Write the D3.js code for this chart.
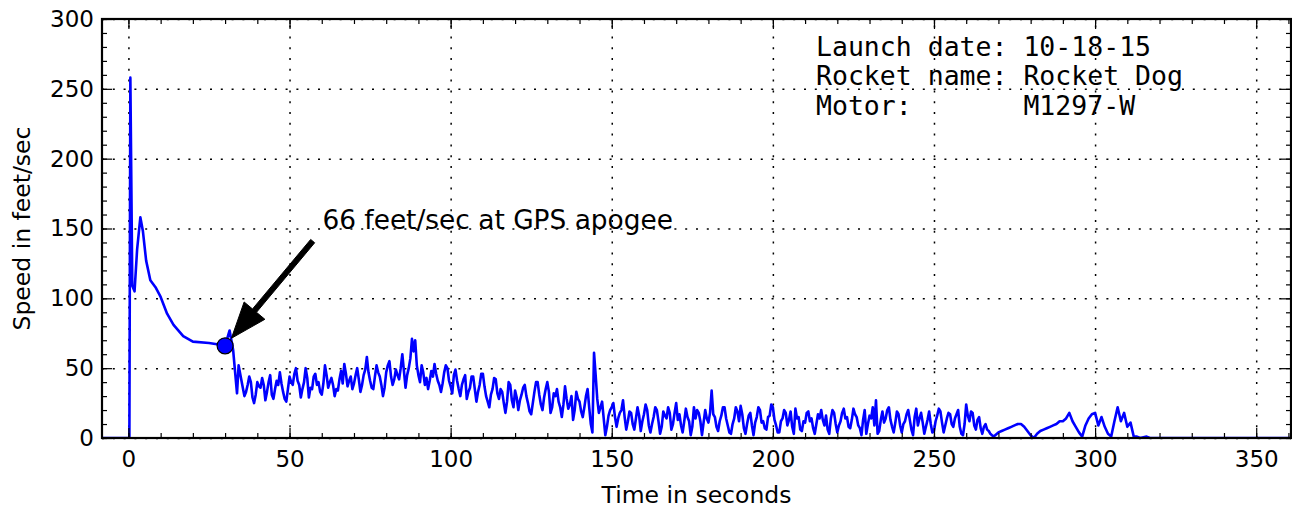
<!DOCTYPE html>
<html lang="en">
	<head>
		<meta charset="utf-8">
		<title>Rocket Dog speed</title>
		<script type="text/javascript" src="https://cdn.jsdelivr.net/npm/d3@7"></script>
		<style>
			body { margin: 0; background: #fff; }
			.axis text {
				font-family: "DejaVu Sans", sans-serif;
				font-size: 23px;
				fill: #000;
			}
			.axis line { stroke: #000; stroke-width: 1.2px; }
			.grid line {
				stroke: #000;
				stroke-width: 1.5px;
				stroke-dasharray: 2, 8.8;
			}
			.label {
				font-family: "DejaVu Sans", sans-serif;
				font-size: 23.5px;
			}
			.info {
				font-family: "DejaVu Sans Mono", monospace;
				font-size: 26.5px;
				white-space: pre;
			}
			.note {
				font-family: "DejaVu Sans", sans-serif;
				font-size: 26.4px;
			}
		</style>
	</head>
	<body>
		<script type="text/javascript">

			var w = 1292;
			var h = 508;

			// boost phase, read point by point (seconds, feet/sec)
			var earlyTime = [-8.2, 0.3, 0.6, 1.2, 1.9, 2.7, 3.7, 4.5, 5.5, 6.8, 8.4, 10, 12, 14, 17, 20, 25, 28, 30, 31.4, 32.5, 33.7, 34.2];
			var earlySpeed = [0, 0, 258, 109, 105, 135, 158, 148, 127, 113, 108, 101, 89, 81, 73, 69, 68, 67, 66, 77, 63, 32, 52];

			// descent under chute, two readings per second from 35 s (one row = 10 s)
			var descentStart = 35;
			var descentStep = 0.5;
			var descentSpeed = [
				42, 36, 30, 33, 38, 44, 40, 29, 25, 31, 40, 37, 36, 43, 38, 27, 33, 40, 45, 31,
				28, 35, 41, 38, 47, 39, 33, 28, 26, 35, 44, 40, 38, 46, 50, 41, 38, 29, 35, 40,
				50, 43, 29, 36, 35, 44, 46, 38, 40, 33, 31, 39, 52, 45, 36, 40, 43, 38, 30, 35,
				34, 42, 48, 39, 53, 46, 37, 41, 44, 35, 39, 45, 50, 42, 33, 38, 45, 49, 58, 47,
				41, 36, 35, 44, 52, 47, 44, 38, 30, 36, 47, 52, 55, 44, 38, 42, 49, 45, 42, 50,
				60, 48, 36, 45, 50, 57, 71, 62, 70, 52, 45, 40, 52, 47, 38, 43, 35, 41, 48, 44,
				53, 46, 41, 38, 33, 39, 47, 52, 50, 41, 37, 32, 45, 49, 41, 35, 30, 38, 42, 45,
				28, 33, 36, 44, 44, 35, 26, 33, 38, 46, 46, 37, 30, 26, 22, 31, 35, 43, 42, 32,
				28, 35, 33, 25, 18, 26, 40, 38, 27, 22, 34, 29, 20, 27, 31, 36, 38, 30, 25, 19,
				17, 25, 33, 40, 40, 31, 24, 20, 29, 35, 40, 33, 18, 22, 32, 30, 35, 26, 22, 15,
				24, 37, 28, 21, 24, 30, 13, 20, 33, 28, 26, 19, 15, 22, 30, 35, 22, 10, 4, 61,
				45, 28, 18, 22, 26, 14, 2, 8, 16, 20, 22, 25, 15, 8, 14, 18, 20, 27, 15, 6,
				12, 19, 18, 10, 6, 14, 22, 16, 5, 12, 17, 24, 20, 9, 4, 10, 15, 22, 20, 12,
				3, 8, 19, 16, 14, 22, 18, 6, 10, 18, 25, 13, 17, 9, 4, 12, 21, 15, 12, 2,
				8, 22, 14, 20, 18, 12, 2, 11, 20, 14, 11, 18, 34, 17, 15, 8, 5, 12, 16, 22,
				22, 14, 9, 4, 3, 10, 14, 22, 19, 12, 23, 17, 7, 3, 10, 16, 18, 9, 2, 11,
				15, 22, 20, 11, 12, 7, 6, 15, 16, 24, 22, 13, 9, 4, 4, 12, 14, 20, 18, 9,
				13, 19, 8, 3, 21, 14, 15, 6, 5, 12, 11, 18, 19, 12, 14, 7, 3, 10, 17, 14,
				20, 13, 9, 16, 6, 3, 14, 20, 18, 10, 4, 9, 12, 18, 21, 14, 15, 8, 7, 13,
				21, 17, 15, 9, 7, 2, 13, 20, 3, 10, 16, 14, 22, 9, 27, 3, 5, 13, 19, 11,
				14, 20, 22, 13, 8, 4, 11, 19, 17, 9, 4, 10, 12, 17, 20, 13, 6, 2, 15, 21,
				9, 14, 18, 11, 3, 8, 13, 19, 10, 4, 5, 12, 16, 21, 19, 11, 4, 9, 14, 18,
				17, 10, 8, 14, 17, 20, 8, 3, 2, 10, 24, 16, 12, 19, 18, 9, 6, 13, 15, 7,
				3, 8, 10, 6, 5, 3, 2, 1
			];

			// slower GPS fixes near the ground, one per second from 269 s
			var tailStart = 269;
			var tailSpeed = [
				2,
				4, 5, 6, 7, 8, 9, 10, 10, 8, 5,
				2, 0, 3, 5, 6, 7, 8, 9, 10, 12,
				12, 14, 18, 12, 8, 4, 1, 9, 14, 17,
				18, 9, 15, 8, 3, 1, 12, 22, 12, 18,
				8, 11, 1
			];

			// landed
			var lateTime = [313, 314, 316, 317, 362];
			var lateSpeed = [1, 0, 1, 0, 0];

			var xTicks = [0, 50, 100, 150, 200, 250, 300, 350];
			var yTicks = [0, 50, 100, 150, 200, 250, 300];

			var apogee = { time: 30, speed: 66, textTime: 60.2, textSpeed: 149.3, text: "66 feet/sec at GPS apogee" };
			var infoLines = ["Launch date: 10-18-15", "Rocket name: Rocket Dog", "Motor:       M1297-W"];

			// build the series
			var dataset = [];
			earlyTime.forEach(function(t, i) { dataset.push({ t: t, v: earlySpeed[i] }); });
			descentSpeed.forEach(function(v, i) { dataset.push({ t: descentStart + i * descentStep, v: v }); });
			tailSpeed.forEach(function(v, i) { dataset.push({ t: tailStart + i, v: v }); });
			lateTime.forEach(function(t, i) { dataset.push({ t: t, v: lateSpeed[i] }); });

			var plotL = 102, plotR = 1291, plotT = 19, plotB = 438;

			var xScale = d3.scaleLinear().domain([-8.2, 360.8]).range([plotL, plotR]);
			var yScale = d3.scaleLinear().domain([0, 300]).range([plotB, plotT]);

			var svg = d3.select("body")
				.append("svg")
				.attr("width", w)
				.attr("height", h);

			svg.append("defs").append("clipPath")
				.attr("id", "plot")
				.append("rect")
				.attr("x", plotL).attr("y", plotT)
				.attr("width", plotR - plotL).attr("height", plotB - plotT);

			// grid
			svg.append("g")
				.attr("class", "grid")
				.attr("transform", "translate(0," + plotB + ")")
				.call(d3.axisBottom(xScale).tickValues(xTicks).tickSize(-(plotB - plotT)).tickFormat(""))
				.call(function(g) { g.select(".domain").remove(); });
			svg.append("g")
				.attr("class", "grid")
				.attr("transform", "translate(" + plotL + ",0)")
				.call(d3.axisLeft(yScale).tickValues(yTicks).tickSize(-(plotR - plotL)).tickFormat(""))
				.call(function(g) { g.select(".domain").remove(); });

			// speed line
			var line = d3.line()
				.x(function(d) { return xScale(d.t); })
				.y(function(d) { return yScale(d.v); });

			svg.append("path")
				.datum(dataset)
				.attr("clip-path", "url(#plot)")
				.attr("fill", "none")
				.attr("stroke", "#0000ff")
				.attr("stroke-width", 2.6)
				.attr("stroke-linejoin", "round")
				.attr("d", line);

			// ticks on all four sides, pointing in
			var minorX = d3.range(0, 361, 10);
			var minorY = d3.range(0, 301, 10);

			function ticks(axisFn, scale, values, size, pad, labels, tx, ty) {
				var ax = axisFn(scale).tickValues(values).tickSizeInner(-size).tickSizeOuter(0).tickPadding(pad);
				if (!labels) ax.tickFormat("");
				svg.append("g")
					.attr("class", "axis")
					.attr("transform", "translate(" + tx + "," + ty + ")")
					.call(ax)
					.call(function(g) { g.select(".domain").remove(); });
			}

			ticks(d3.axisBottom, xScale, minorX, 5, 0, false, 0, plotB);
			ticks(d3.axisTop, xScale, minorX, 5, 0, false, 0, plotT);
			ticks(d3.axisLeft, yScale, minorY, 5, 0, false, plotL, 0);
			ticks(d3.axisRight, yScale, minorY, 5, 0, false, plotR, 0);
			ticks(d3.axisBottom, xScale, xTicks, 10, 13, true, 0, plotB);
			ticks(d3.axisTop, xScale, xTicks, 10, 0, false, 0, plotT);
			ticks(d3.axisLeft, yScale, yTicks, 10, 8, true, plotL, 0);
			ticks(d3.axisRight, yScale, yTicks, 10, 0, false, plotR, 0);

			// frame
			svg.append("rect")
				.attr("x", plotL).attr("y", plotT)
				.attr("width", plotR - plotL).attr("height", plotB - plotT)
				.attr("fill", "none")
				.attr("stroke", "#000")
				.attr("stroke-width", 2.2);

			// axis labels
			svg.append("text")
				.attr("class", "label")
				.attr("x", (plotL + plotR) / 2)
				.attr("y", 503)
				.attr("text-anchor", "middle")
				.text("Time in seconds");

			svg.append("text")
				.attr("class", "label")
				.attr("transform", "translate(30," + ((plotT + plotB) / 2) + ") rotate(-90)")
				.attr("text-anchor", "middle")
				.text("Speed in feet/sec");

			// launch info
			svg.append("g").selectAll("text")
				.data(infoLines)
				.enter()
				.append("text")
				.attr("class", "info")
				.attr("x", 816)
				.attr("y", function(d, i) { return 55.5 + i * 29.5; })
				.text(function(d) { return d; });

			// apogee annotation
			var px = xScale(apogee.time), py = yScale(apogee.speed);
			var tx = xScale(apogee.textTime), ty = yScale(apogee.textSpeed);
			var dx = px - tx, dy = py - ty;
			var x0 = tx + 0.1 * dx, y0 = ty + 0.1 * dy;
			var x1 = px - 0.065 * dx, y1 = py - 0.065 * dy;
			var len = Math.sqrt((x1 - x0) * (x1 - x0) + (y1 - y0) * (y1 - y0));
			var ux = (x1 - x0) / len, uy = (y1 - y0) / len;
			var nx = -uy, ny = ux;
			var shaft = 2.6, head = 13.5, headLen = 36;
			var bx = x1 - ux * headLen, by = y1 - uy * headLen;
			var arrow = [
				[x0 + nx * shaft, y0 + ny * shaft],
				[bx + nx * shaft, by + ny * shaft],
				[bx + nx * head, by + ny * head],
				[x1, y1],
				[bx - nx * head, by - ny * head],
				[bx - nx * shaft, by - ny * shaft],
				[x0 - nx * shaft, y0 - ny * shaft]
			];

			svg.append("circle")
				.attr("cx", px)
				.attr("cy", py)
				.attr("r", 8)
				.attr("fill", "#0000ff")
				.attr("stroke", "#000")
				.attr("stroke-width", 1.2);

			svg.append("polygon")
				.attr("points", arrow.map(function(p) { return p.join(","); }).join(" "))
				.attr("fill", "#000")
				.attr("stroke", "#000")
				.attr("stroke-width", 1);

			svg.append("text")
				.attr("class", "note")
				.attr("x", tx)
				.attr("y", ty)
				.text(apogee.text);

		</script>
	</body>
</html>
